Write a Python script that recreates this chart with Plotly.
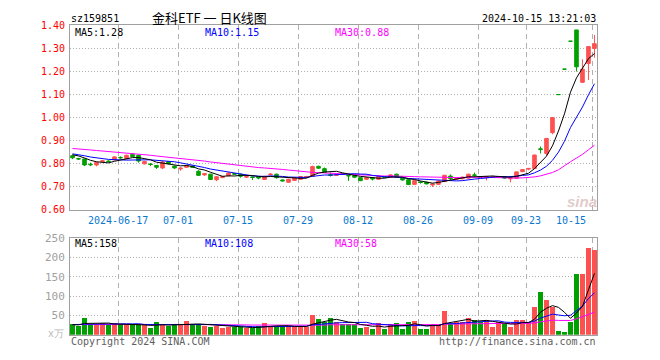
import plotly.graph_objects as go
import pandas as pd
import numpy as np

W, H = 660, 360

# ---------------- data ----------------
holidays = ["2024-06-10", "2024-09-16", "2024-09-17", "2024-10-01", "2024-10-02",
            "2024-10-03", "2024-10-04", "2024-10-07"]

open_ = [0.835, 0.823, 0.821, 0.798, 0.795, 0.809, 0.812, 0.817, 0.828, 0.822,
         0.841, 0.837, 0.800, 0.799, 0.793, 0.782, 0.810, 0.790, 0.778, 0.785,
         0.790, 0.768, 0.752, 0.755, 0.731, 0.740, 0.748, 0.758, 0.755, 0.742,
         0.743, 0.743, 0.732, 0.753, 0.755, 0.730, 0.720, 0.728, 0.733, 0.742,
         0.745, 0.789, 0.779, 0.753, 0.750, 0.757, 0.750, 0.749, 0.740, 0.733,
         0.740, 0.733, 0.745, 0.742, 0.755, 0.737, 0.731, 0.711, 0.721, 0.720,
         0.708, 0.711, 0.723, 0.747, 0.733, 0.735, 0.738, 0.752, 0.745, 0.740,
         0.741, 0.742, 0.745, 0.735, 0.737, 0.766, 0.777, 0.780, 0.865, 0.845,
         0.935, 1.100, 1.210, 1.331, 1.380, 1.153, 1.235, 1.300]
high = [0.840, 0.826, 0.823, 0.805, 0.808, 0.815, 0.815, 0.832, 0.832, 0.839,
        0.845, 0.840, 0.813, 0.803, 0.795, 0.812, 0.812, 0.792, 0.785, 0.794,
        0.792, 0.772, 0.760, 0.757, 0.746, 0.748, 0.762, 0.760, 0.757, 0.747,
        0.745, 0.745, 0.748, 0.760, 0.757, 0.732, 0.735, 0.742, 0.747, 0.748,
        0.792, 0.792, 0.784, 0.762, 0.758, 0.760, 0.752, 0.751, 0.742, 0.742,
        0.742, 0.747, 0.747, 0.755, 0.757, 0.739, 0.733, 0.729, 0.725, 0.722,
        0.714, 0.728, 0.752, 0.754, 0.739, 0.744, 0.757, 0.762, 0.747, 0.747,
        0.749, 0.748, 0.747, 0.740, 0.767, 0.777, 0.782, 0.840, 0.875, 0.912,
        1.002, 1.100, 1.210, 1.331, 1.380, 1.253, 1.310, 1.358]
low = [0.820, 0.817, 0.790, 0.790, 0.789, 0.805, 0.806, 0.815, 0.822, 0.820,
       0.829, 0.805, 0.797, 0.790, 0.778, 0.777, 0.798, 0.778, 0.770, 0.783,
       0.782, 0.748, 0.748, 0.730, 0.725, 0.738, 0.746, 0.752, 0.740, 0.740,
       0.730, 0.733, 0.730, 0.750, 0.736, 0.724, 0.718, 0.726, 0.731, 0.740,
       0.744, 0.778, 0.760, 0.745, 0.748, 0.752, 0.726, 0.738, 0.725, 0.731,
       0.728, 0.731, 0.740, 0.740, 0.740, 0.727, 0.708, 0.709, 0.714, 0.711,
       0.700, 0.709, 0.721, 0.730, 0.731, 0.733, 0.736, 0.743, 0.740, 0.728,
       0.739, 0.740, 0.735, 0.720, 0.735, 0.764, 0.772, 0.778, 0.845, 0.835,
       0.928, 1.100, 1.210, 1.331, 1.200, 1.150, 1.163, 1.260]
close = [0.826, 0.821, 0.795, 0.796, 0.806, 0.813, 0.810, 0.830, 0.826, 0.837,
         0.831, 0.812, 0.810, 0.797, 0.785, 0.808, 0.800, 0.782, 0.781, 0.792,
         0.785, 0.750, 0.758, 0.732, 0.744, 0.745, 0.760, 0.755, 0.746, 0.745,
         0.741, 0.739, 0.746, 0.755, 0.740, 0.726, 0.733, 0.740, 0.745, 0.745,
         0.788, 0.781, 0.763, 0.750, 0.756, 0.755, 0.748, 0.742, 0.727, 0.740,
         0.734, 0.745, 0.742, 0.752, 0.742, 0.730, 0.710, 0.727, 0.719, 0.713,
         0.712, 0.726, 0.750, 0.735, 0.737, 0.742, 0.755, 0.750, 0.742, 0.745,
         0.744, 0.745, 0.738, 0.737, 0.765, 0.775, 0.780, 0.838, 0.862, 0.910,
         1.000, 1.100, 1.210, 1.331, 1.220, 1.210, 1.308, 1.320]
volume = [27.5, 23, 42.5, 26, 27.5, 29, 25, 30, 25, 26,
          25, 27, 24, 17.5, 32.5, 27.5, 23, 27.5, 26, 35,
          25, 25, 23, 21, 22.5, 18, 20, 20, 19, 16,
          17, 22.5, 30, 21.5, 22.5, 20, 21.5, 21.5, 21.5, 21,
          50, 40, 34, 42.5, 31.7, 27.5, 27.5, 27.5, 17.5, 21,
          15, 30, 15, 27.5, 30, 15, 32.5, 35, 15, 15,
          24, 27.5, 62, 27.5, 32.5, 32.5, 44, 37.5, 32.5, 38,
          20, 32.5, 27.5, 20, 38, 38, 32.5, 71, 110, 90,
          72, 10, 7.5, 32.5, 157.5, 157.5, 225, 220]
# closes / volumes of the sessions before the visible window (feed the moving averages)
prior_close = [0.862, 0.868, 0.873, 0.878, 0.872, 0.880, 0.886, 0.892, 0.895, 0.889,
               0.884, 0.890, 0.893, 0.886, 0.880, 0.874, 0.870, 0.866, 0.862, 0.858,
               0.852, 0.848, 0.850, 0.846, 0.842, 0.845, 0.840, 0.846, 0.838]
prior_volume = [26, 24, 28, 30, 25, 27, 23, 29, 31, 26, 24, 27, 25, 28, 30,
                26, 23, 25, 27, 24, 26, 28, 25, 23, 27, 26, 24, 25, 27]
tick_dates = ["2024-06-17", "2024-07-01", "2024-07-15", "2024-07-29", "2024-08-12",
              "2024-08-26", "2024-09-09", "2024-09-23", "2024-10-15"]
price_ticks = [0.60, 0.70, 0.80, 0.90, 1.00, 1.10, 1.20, 1.30, 1.40]
vol_ticks = [50, 100, 150, 200, 250]

# ---------------- derived ----------------
days = [d.strftime("%Y-%m-%d") for d in pd.bdate_range("2024-06-04", "2024-10-15")
        if d.strftime("%Y-%m-%d") not in holidays]
n = len(close)
idx = np.arange(n)


def moving(prior, vals, k):
    full = list(prior) + list(vals)
    p = len(prior)
    return [float(np.mean(full[j - k + 1:j + 1])) for j in range(p, p + len(vals))]


ma5, ma10, ma30 = (moving(prior_close, close, k) for k in (5, 10, 30))
vma5, vma10, vma30 = (moving(prior_volume, volume, k) for k in (5, 10, 30))

RED, GREEN = "#ff5050", "#00a000"
up = [c > o for o, c in zip(open_, close)]
bar_colors = [RED if u else GREEN for u in up]

fig = go.Figure()
for flag, col in ((True, RED), (False, GREEN)):
    sel = [i for i in range(n) if up[i] == flag]
    fig.add_trace(go.Candlestick(
        x=[idx[i] for i in sel], open=[open_[i] for i in sel], high=[high[i] for i in sel],
        low=[low[i] for i in sel], close=[close[i] for i in sel],
        increasing=dict(line=dict(color=col, width=1), fillcolor=col),
        decreasing=dict(line=dict(color=col, width=1), fillcolor=col),
        whiskerwidth=0, showlegend=False, hoverinfo="skip", xaxis="x", yaxis="y"))

for series, col in ((ma30, "#ff00ff"), (ma10, "#0000ff"), (ma5, "#000000")):
    fig.add_trace(go.Scatter(x=idx, y=series, mode="lines", line=dict(color=col, width=1),
                             showlegend=False, hoverinfo="skip", xaxis="x", yaxis="y"))

fig.add_trace(go.Bar(x=idx, y=volume, marker=dict(color=bar_colors, line=dict(width=0)),
                     width=0.83, showlegend=False, hoverinfo="skip", xaxis="x2", yaxis="y2"))
for series, col in ((vma30, "#ff00ff"), (vma10, "#0000ff"), (vma5, "#000000")):
    fig.add_trace(go.Scatter(x=idx, y=series, mode="lines", line=dict(color=col, width=1),
                             showlegend=False, hoverinfo="skip", xaxis="x2", yaxis="y2"))

# ---------------- layout ----------------
def px_x(p):
    return p / W


def px_y(p):
    return 1 - p / H


tick_pos = [days.index(d) - 0.35 for d in tick_dates]
xr = [-0.42, n - 0.58]
mono = "DejaVu Sans Mono"
grid = "#b0b0b0"
border = "#a0a0a0"

xcommon = dict(range=xr, showticklabels=False, tickvals=tick_pos, ticks="",
               showgrid=True, gridcolor=grid, griddash="5px,4px", gridwidth=1,
               zeroline=False, showline=True, mirror=True, linecolor=border, linewidth=1,
               fixedrange=True)

fig.update_layout(
    width=W, height=H, margin=dict(l=0, r=0, t=0, b=0),
    paper_bgcolor="white", plot_bgcolor="white", boxgap=0.15, bargap=0,
    xaxis=dict(domain=[px_x(70), px_x(597)], anchor="y", rangeslider=dict(visible=False), **xcommon),
    yaxis=dict(domain=[px_y(211), px_y(20)], anchor="x", range=[0.60, 1.40],
               tickvals=price_ticks, ticktext=[f"{v:.2f}" for v in price_ticks],
               tickfont=dict(family=mono, size=10, color="#ff0000"), ticks="",
               showgrid=True, gridcolor=grid, griddash="1px,2px", gridwidth=1,
               zeroline=False, showline=True, mirror=True, linecolor=border, linewidth=1,
               ticklabelstandoff=2, fixedrange=True),
    xaxis2=dict(domain=[px_x(70), px_x(597)], anchor="y2", **xcommon),
    yaxis2=dict(domain=[px_y(340), px_y(240)], anchor="x2", range=[0, 250],
                tickvals=vol_ticks, ticktext=[str(v) for v in vol_ticks],
                tickfont=dict(family=mono, size=11, color="#a0a0a0"), ticks="",
                showgrid=True, gridcolor=grid, griddash="1px,2px", gridwidth=1,
                zeroline=False, showline=True, mirror=True, linecolor=border, linewidth=1,
                ticklabelstandoff=2, fixedrange=True),
)

anns = []


def note(text, x, y, anchor="left", color="#000", size=10, family=mono, **kw):
    anns.append(dict(text=text, x=px_x(x), y=px_y(y), xref="paper", yref="paper",
                     xanchor=anchor, yanchor="middle", showarrow=False,
                     font=dict(family=family, size=size, color=color), **kw))


note("sz159851", 69, 13)
note("金科ETF 一 日K线图", 209, 12, anchor="center", size=13,
     family="Noto Sans CJK SC, sans-serif")
note("2024-10-15 13:21:03", 598, 13, anchor="right")

note(f"MA5:{ma5[-1]:.2f}", 73, 27)
note(f"MA10:{ma10[-1]:.2f}", 203, 27, color="#0000ff")
note(f"MA30:{ma30[-1]:.2f}", 333, 27, color="#ff00ff")
note(f"MA5:{int(vma5[-1])}", 73, 246)
note(f"MA10:{int(vma10[-1])}", 203, 246, color="#0000ff")
note(f"MA30:{int(vma30[-1])}", 333, 246, color="#ff00ff")

note("Copyright 2024 SINA.COM", 69, 347, color="#606060")
note("http://finance.sina.com.cn", 598, 347, anchor="right", color="#606060")
note("x万", 66, 339, anchor="right", color="#b8b8b8", size=10)
note("<b><i>sina</i></b>", 582, 202, anchor="center", color="rgba(215,185,185,0.75)",
     size=15, family="Liberation Sans, sans-serif")

for k, (d, pos) in enumerate(zip(tick_dates, tick_pos)):
    label = d if k == 0 else d[5:]
    last = k == len(tick_dates) - 1
    anns.append(dict(text=label, x=pos - (0.75 if last else 0), y=px_y(222), xref="x",
                     yref="paper", xanchor="right" if last else "center", yanchor="middle",
                     showarrow=False, font=dict(family=mono, size=10, color="#0a78d0")))

fig.update_layout(annotations=anns)
fig.write_html("out.html", config={"displayModeBar": False},
               post_script="document.body.style.margin='0';"
                           "document.body.style.overflow='hidden';")
